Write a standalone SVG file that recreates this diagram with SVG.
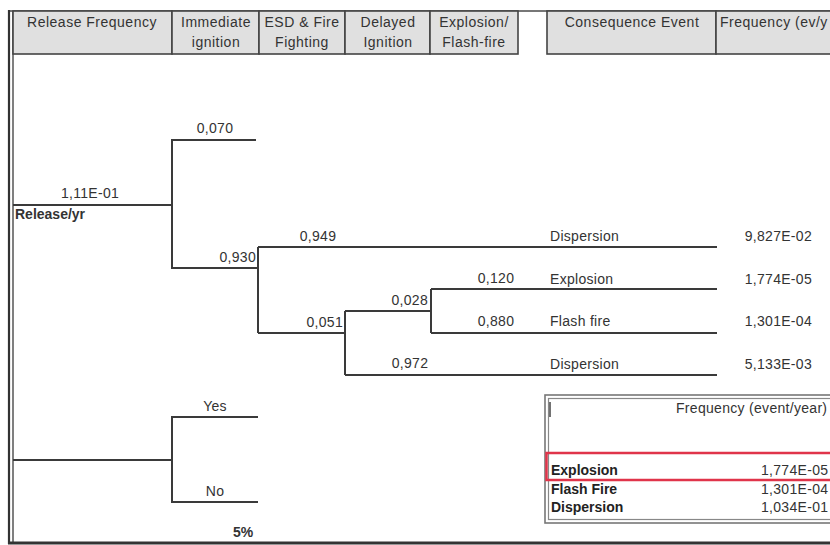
<svg xmlns="http://www.w3.org/2000/svg" width="830" height="545" viewBox="0 0 830 545">
<style>
text{font-family:"Liberation Sans",Arial,sans-serif;fill:#333}
.h{font-size:14px;letter-spacing:0.5px;text-anchor:middle}
.t{font-size:14px;letter-spacing:0.3px}
.m{text-anchor:middle}
.e{text-anchor:end}
.b{font-size:14px;font-weight:bold;fill:#222}
.ln{stroke:#3a3a3a;stroke-width:2;fill:none}
.hd{fill:#e0e0e0;stroke:#444;stroke-width:1.6}
</style>
<rect width="830" height="545" fill="#fff"/>
<g id="frame">
<line x1="8" y1="11" x2="830" y2="11" stroke="#777" stroke-width="2"/>
<line x1="9" y1="10" x2="9" y2="544" stroke="#333" stroke-width="2.2"/>
<line x1="13" y1="11" x2="13" y2="542" stroke="#555" stroke-width="1.5"/>
<line x1="8" y1="543" x2="830" y2="543" stroke="#333" stroke-width="3"/>
</g>
<g id="header">
<rect class="hd" x="13" y="11" width="159" height="43"/>
<rect class="hd" x="172" y="11" width="87" height="43"/>
<rect class="hd" x="259" y="11" width="86" height="43"/>
<rect class="hd" x="345" y="11" width="85" height="43"/>
<rect class="hd" x="430" y="11" width="88" height="43"/>
<rect class="hd" x="547" y="11" width="169" height="43"/>
<rect class="hd" x="716" y="11" width="120" height="43"/>
<text class="h" x="92" y="27">Release Frequency</text>
<text class="h" x="216" y="27">Immediate</text>
<text class="h" x="216" y="47">ignition</text>
<text class="h" x="302" y="27">ESD &amp; Fire</text>
<text class="h" x="302" y="47">Fighting</text>
<text class="h" x="388" y="27">Delayed</text>
<text class="h" x="388" y="47">Ignition</text>
<text class="h" x="474" y="27">Explosion/</text>
<text class="h" x="474" y="47">Flash-fire</text>
<text class="h" x="632" y="27">Consequence Event</text>
<text class="h" x="720" y="27" style="text-anchor:start">Frequency (ev/y</text>
</g>
<g id="connectors">
<path class="ln" d="M13 205H172M256 140H172V268H258M258 247H717M258 333V247M258 333H345M345 311V375M345 311H431M345 375H717M431 289V333M431 289H717M431 333H717"/>
<path class="ln" d="M13 460H172M258 417H172V502H258"/>
</g>
<g id="labels">
<text class="t m" x="90" y="198">1,11E-01</text>
<text class="b" x="15" y="219" style="font-size:14px;fill:#333">Release/yr</text>
<text class="t m" x="215" y="133">0,070</text>
<text class="t e" x="256" y="262">0,930</text>
<text class="t m" x="318" y="241">0,949</text>
<text class="t e" x="343" y="327">0,051</text>
<text class="t e" x="428" y="305">0,028</text>
<text class="t m" x="410" y="368">0,972</text>
<text class="t m" x="496" y="283">0,120</text>
<text class="t m" x="496" y="326">0,880</text>
<text class="t m" x="215" y="411">Yes</text>
<text class="t m" x="215" y="496">No</text>
<text class="b m" x="243" y="537" style="font-size:14px;fill:#333">5%</text>
</g>
<g id="consequences">
<text class="t" x="550" y="241">Dispersion</text>
<text class="t" x="550" y="284">Explosion</text>
<text class="t" x="550" y="326">Flash fire</text>
<text class="t" x="550" y="369">Dispersion</text>
<text class="t e" x="812" y="241">9,827E-02</text>
<text class="t e" x="812" y="284">1,774E-05</text>
<text class="t e" x="812" y="326">1,301E-04</text>
<text class="t e" x="812" y="369">5,133E-03</text>
</g>
<g id="summary">
<rect x="545" y="395" width="295" height="128" fill="none" stroke="#777" stroke-width="1.6"/>
<rect x="548.5" y="398.5" width="290" height="121" fill="none" stroke="#888" stroke-width="1.2"/>
<line x1="550" y1="402" x2="550" y2="417" stroke="#444" stroke-width="1.5"/>
<text class="t" x="676" y="413">Frequency (event/year)</text>
<rect x="546.5" y="453" width="295" height="27" fill="none" stroke="#e0344a" stroke-width="2.5"/>
<text class="b" x="551" y="475">Explosion</text>
<text class="b" x="551" y="494">Flash Fire</text>
<text class="b" x="551" y="512">Dispersion</text>
<text class="t" x="761" y="475">1,774E-05</text>
<text class="t" x="761" y="494">1,301E-04</text>
<text class="t" x="761" y="512">1,034E-01</text>
</g>
</svg>
